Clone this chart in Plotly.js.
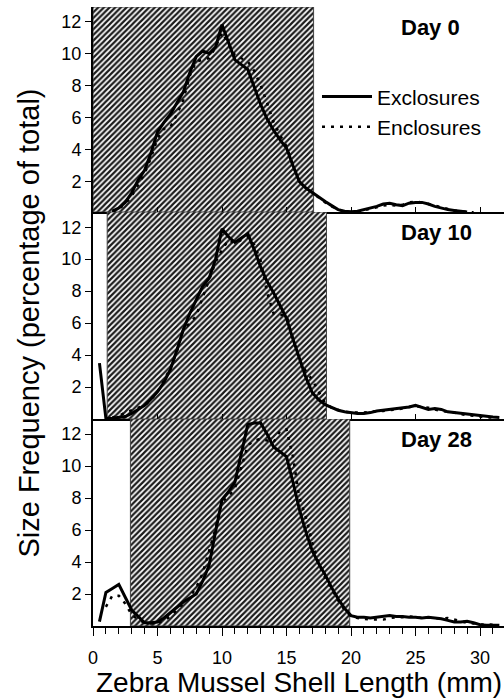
<!DOCTYPE html>
<html>
<head>
<meta charset="utf-8">
<script src="https://cdn.plot.ly/plotly-3.0.1.min.js"></script>
<style>html,body{margin:0;padding:0;background:#fff;}#chart{width:504px;height:699px;}</style>
</head>
<body>
<div id="chart"></div>
<script>
// Shell length (mm)
const shellLength = [0.5,1,1.5,2,2.5,3,3.5,4,4.5,5,5.5,6,6.5,7,7.5,8,8.5,9,9.5,10,10.5,11,11.5,12,12.5,13,13.5,14,14.5,15,15.5,16,16.5,17,17.5,18,18.5,19,19.5,20,20.5,21,21.5,22,22.5,23,23.5,24,24.5,25,25.5,26,26.5,27,27.5,28,28.5,29,29.5,30,30.5,31,31.5];

const panelLabels = ["Day 0", "Day 10", "Day 28"];
const seriesNames = ["Exclosures", "Enclosures"];

// Day 0
const day0Exclosures = [null,null,0.15,0.35,0.7,1.3,2.1,2.7,3.8,5.1,5.7,6.2,6.9,7.6,8.8,9.8,10.15,10.0,10.4,11.8,10.7,9.6,9.3,9.0,7.9,6.8,5.9,5.2,4.6,4.1,3.0,2.0,1.6,1.3,1.0,0.75,0.5,0.25,0.15,0.12,0.15,0.25,0.35,0.45,0.6,0.65,0.55,0.5,0.65,0.7,0.7,0.6,0.45,0.35,0.25,0.2,0.15,0.1,null,null,null,null,null];
const day0Enclosures = [null,null,0.1,0.3,0.6,1.1,1.8,2.5,3.5,4.7,5.3,5.4,6.2,7.1,8.6,9.5,9.6,9.7,10.4,11.3,10.6,9.9,9.7,9.5,8.9,8.0,6.9,5.7,4.9,4.2,3.0,2.0,1.6,1.3,0.95,0.7,0.45,0.25,0.1,0.1,0.12,0.2,0.3,0.4,0.5,0.55,0.5,0.55,0.7,0.75,0.7,0.6,0.5,0.4,0.3,0.2,0.15,0.1,0.08,null,null,null,null];
// Day 10
const day10Exclosures = [3.5,0.03,0.05,0.1,0.15,0.35,0.6,0.85,1.25,1.7,2.3,3.1,4.3,5.6,6.6,7.5,8.3,8.8,10.0,11.9,11.4,11.05,11.3,11.6,10.6,9.5,8.6,7.9,7.1,6.3,5.0,3.8,2.6,1.64,1.2,0.9,0.7,0.55,0.45,0.4,0.35,0.35,0.4,0.5,0.55,0.6,0.65,0.7,0.75,0.85,0.7,0.6,0.65,0.6,0.45,0.4,0.35,0.3,0.25,0.2,0.15,0.12,0.1];
const day10Enclosures = [null,null,0.1,0.2,0.4,0.55,0.7,0.85,1.2,1.7,2.4,3.2,4.2,5.6,6.0,6.45,7.6,8.7,9.8,10.6,11.2,11.0,11.2,11.4,10.9,9.9,7.9,6.6,6.5,6.5,5.0,3.7,3.0,2.45,1.7,1.0,0.7,0.55,0.45,0.4,0.4,0.4,0.45,0.5,0.5,0.55,0.6,0.65,0.75,0.8,0.75,0.7,0.6,0.5,0.45,0.4,0.3,0.25,0.2,0.15,0.1,0.1,null];
// Day 28
const day28Exclosures = [0.27,2.1,2.35,2.6,1.8,1.0,0.6,0.2,0.2,0.25,0.5,0.85,1.2,1.5,1.75,2.0,2.8,3.8,5.9,7.9,8.4,9.0,10.8,12.6,12.7,12.7,12.0,11.2,10.9,10.6,9.0,7.3,5.9,4.7,3.9,3.2,2.4,1.7,1.1,0.65,0.55,0.55,0.5,0.55,0.6,0.65,0.6,0.6,0.55,0.55,0.5,0.55,0.5,0.45,0.35,0.25,0.25,0.3,0.2,0.08,0.05,0.05,0.05];
const day28Enclosures = [null,1.2,1.9,1.9,1.4,0.7,0.4,0.2,0.15,0.2,0.35,0.6,1.0,1.35,1.8,2.4,3.3,4.7,6.1,7.8,8.1,8.6,9.9,11.3,11.6,11.7,11.6,11.5,12.2,12.3,10.6,8.0,6.8,5.2,3.9,3.0,2.3,1.6,1.0,0.6,0.5,0.45,0.4,0.4,0.4,0.5,0.55,0.55,0.6,0.55,0.5,0.55,0.5,0.45,0.5,0.4,0.3,0.2,0.15,0.1,0.1,0.08,null];

// Hatched (shaded) size range per panel (mm)
const shadeStart = [0, 1.1, 2.9];
const shadeEnd = [17.1, 18.1, 19.9];

const xTickVals = [0, 5, 10, 15, 20, 25, 30];
const yTickVals = [2, 4, 6, 8, 10, 12];

const exclosureData = [day0Exclosures, day10Exclosures, day28Exclosures];
const enclosureData = [day0Enclosures, day10Enclosures, day28Enclosures];

// layout settings
const xRange = [0, 31.86];
const yRanges = [[0.1, 12.9], [0, 12.95], [0, 12.95]];
const domains = [[0.6688, 1], [0.3344, 0.6688], [0, 0.3344]];
const FONT = "Arial, 'Liberation Sans', sans-serif";

const traces = [];
const layout = {
  width: 504, height: 699,
  margin: {l: 93, r: 0, t: 7, b: 73},
  paper_bgcolor: "#fff", plot_bgcolor: "rgba(0,0,0,0)",
  font: {family: FONT, color: "#000", size: 18},
  showlegend: true,
  legend: {
    x: 0.545, y: 0.888, xanchor: "left", yanchor: "top",
    bgcolor: "rgba(0,0,0,0)", font: {size: 21, family: FONT},
    itemwidth: 50, tracegroupgap: 0
  },
  annotations: [],
  shapes: []
};

for (let p = 0; p < 3; p++) {
  const sfx = p === 0 ? "" : String(p + 1);
  const xa = "x" + sfx, ya = "y" + sfx;
  const yr = yRanges[p];
  // hatched region
  traces.push({
    type: "scatter", mode: "lines", xaxis: xa, yaxis: ya,
    x: [shadeStart[p], shadeEnd[p], shadeEnd[p], shadeStart[p], shadeStart[p]],
    y: [yr[0], yr[0], yr[1], yr[1], yr[0]],
    fill: "toself",
    fillcolor: "rgba(0,0,0,0)",
    fillpattern: {shape: "/", size: 4, solidity: 0.55, fgcolor: "#1a1a1a", bgcolor: "#ffffff", fillmode: "replace"},
    line: {color: "#444", width: 1},
    hoverinfo: "skip", showlegend: false
  });
  traces.push({
    type: "scatter", mode: "lines", xaxis: xa, yaxis: ya,
    x: shellLength, y: exclosureData[p], name: seriesNames[0],
    line: {color: "#000", width: 3}, connectgaps: false,
    showlegend: p === 0, legendgroup: "ex"
  });
  traces.push({
    type: "scatter", mode: "lines", xaxis: xa, yaxis: ya,
    x: shellLength, y: enclosureData[p], name: seriesNames[1],
    line: {color: "#000", width: 2.5, dash: "3px,6px"}, connectgaps: false,
    showlegend: p === 0, legendgroup: "en"
  });

  const isBottom = p === 2;
  layout["xaxis" + sfx] = {
    anchor: ya, domain: [0, 1], range: xRange,
    showline: true, linecolor: "#000", linewidth: 2,
    showgrid: false, zeroline: false,
    tickvals: xTickVals,
    ticks: isBottom ? "outside" : "inside", ticklen: isBottom ? 8 : 5, tickwidth: 1, tickcolor: "#000",
    showticklabels: isBottom,
    tickfont: {size: 18, family: FONT},
    ticklabelstandoff: 6,
    minor: isBottom ? {dtick: 1, ticks: "outside", ticklen: 6, tickcolor: "#000", tickwidth: 1} : undefined
  };
  layout["yaxis" + sfx] = {
    anchor: xa, domain: domains[p], range: yr,
    showline: true, linecolor: "#000", linewidth: 2,
    showgrid: false, zeroline: false,
    tickvals: yTickVals,
    ticks: "outside", ticklen: 6, tickwidth: 1, tickcolor: "#000",
    tickfont: {size: 18, family: FONT}
  };
  layout.annotations.push({
    xref: "paper", yref: ya + " domain", x: 0.745, y: 0.9,
    xanchor: "left", yanchor: "middle", showarrow: false,
    text: "<b>" + panelLabels[p] + "</b>", font: {size: 22, family: FONT}
  });
}

layout.annotations.push({
  xref: "paper", yref: "paper", x: 0.5, y: -0.092, xanchor: "center", yanchor: "middle",
  showarrow: false, text: "Zebra Mussel Shell Length (mm)", font: {size: 28, family: FONT}
});
layout.annotations.push({
  xref: "paper", yref: "paper", x: -0.156, y: 0.49, xanchor: "center", yanchor: "middle",
  textangle: -90, showarrow: false, text: "Size Frequency (percentage of total)", font: {size: 29, family: FONT}
});

Plotly.newPlot("chart", traces, layout, {displayModeBar: false, staticPlot: true});
</script>
</body>
</html>
